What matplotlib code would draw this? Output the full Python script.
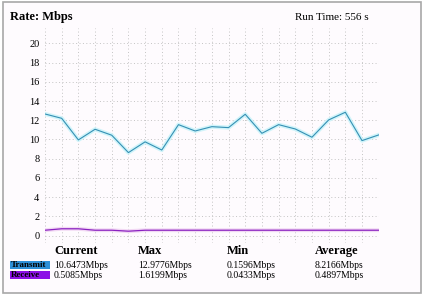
import numpy as np
import matplotlib
matplotlib.use("Agg")
import matplotlib.pyplot as plt
from matplotlib.patches import Rectangle

# samples (one per grid column)
transmit = [12.65, 12.2, 9.95, 11.06, 10.44, 8.63, 9.75, 8.9, 11.54, 10.88, 11.33,
            11.23, 12.62, 10.64, 11.54, 11.09, 10.23, 12.03, 12.83, 9.88, 10.47]
receive = [0.55, 0.7, 0.7, 0.55, 0.55, 0.45, 0.55, 0.55, 0.55, 0.55, 0.55,
           0.55, 0.55, 0.55, 0.55, 0.55, 0.55, 0.55, 0.55, 0.55, 0.55]
yticks = list(range(0, 21, 2))
run_time = "Run Time: 556 s"

stat_names = ["Current", "Max", "Min", "Average"]
series = ["Transmit", "Receive"]
stats = {
    "Transmit": ["10.6473Mbps", "12.9776Mbps", "0.1596Mbps", "8.2166Mbps"],
    "Receive": ["0.5085Mbps", "1.6199Mbps", "0.0433Mbps", "0.4897Mbps"],
}
colors = {"Transmit": "#2e90d8", "Receive": "#8c10e6"}

plt.rcParams["font.family"] = ["Liberation Serif", "DejaVu Serif"]

W, H = 424, 297
fig = plt.figure(figsize=(W / 100, H / 100), dpi=100)
fig.patch.set_facecolor("white")

def px(x, y):
    return x / W, 1 - y / H

# outer frame (behind everything)
fig.patches.append(Rectangle(px(3, 293), 418 / W, 291 / H, transform=fig.transFigure,
                             facecolor="#fefbfe", edgecolor="#a8a8a8", lw=1.2, zorder=-10))

ax = fig.add_axes([45 / W, 1 - 243 / H, 333.7 / W, 215 / H])
ax.set_facecolor("none")
x = np.arange(len(transmit))
ax.plot(x, transmit, color="#d0f4fa", lw=3.0, solid_joinstyle="round", zorder=2)
ax.plot(x, transmit, color="#3590b4", lw=0.8, zorder=3)
ax.plot(x, receive, color="#f2d8f4", lw=2.8, zorder=2)
ax.plot(x, receive, color="#8a22c0", lw=0.9, zorder=3)

ax.set_xlim(0, len(transmit) - 1)
ax.set_ylim(-0.78, 21.6)
ax.set_yticks(yticks)
ax.set_xticks(x)
ax.set_xticklabels([])
ax.grid(True, color="#c4c4c4", ls=(0, (1, 2.5)), lw=0.7)
for s in ax.spines.values():
    s.set_visible(False)
ax.tick_params(length=0, labelsize=7.5, pad=4)

fig.text(*px(10, 17), "Rate: Mbps", fontsize=9, fontweight="bold", va="center")
fig.text(*px(295, 17), run_time, fontsize=8, va="center")

# statistics table below the chart
cols_x = [54, 138, 227, 315]
for cx, name in zip(cols_x, stat_names):
    fig.text(*px(cx, 251), name, fontsize=9, fontweight="bold", va="center")
for i, s in enumerate(series):
    yc = 265 + i * 10
    fig.patches.append(Rectangle(px(10, yc + 4), 40 / W, 8.5 / H, transform=fig.transFigure,
                                 facecolor=colors[s], edgecolor="none"))
    fig.text(*px(11, yc), s, fontsize=6.5, fontweight="bold", va="center")
    for cx, val in zip(cols_x, stats[s]):
        fig.text(*px(cx, yc), val, fontsize=7, va="center")

fig.savefig("out.png", dpi=100)
